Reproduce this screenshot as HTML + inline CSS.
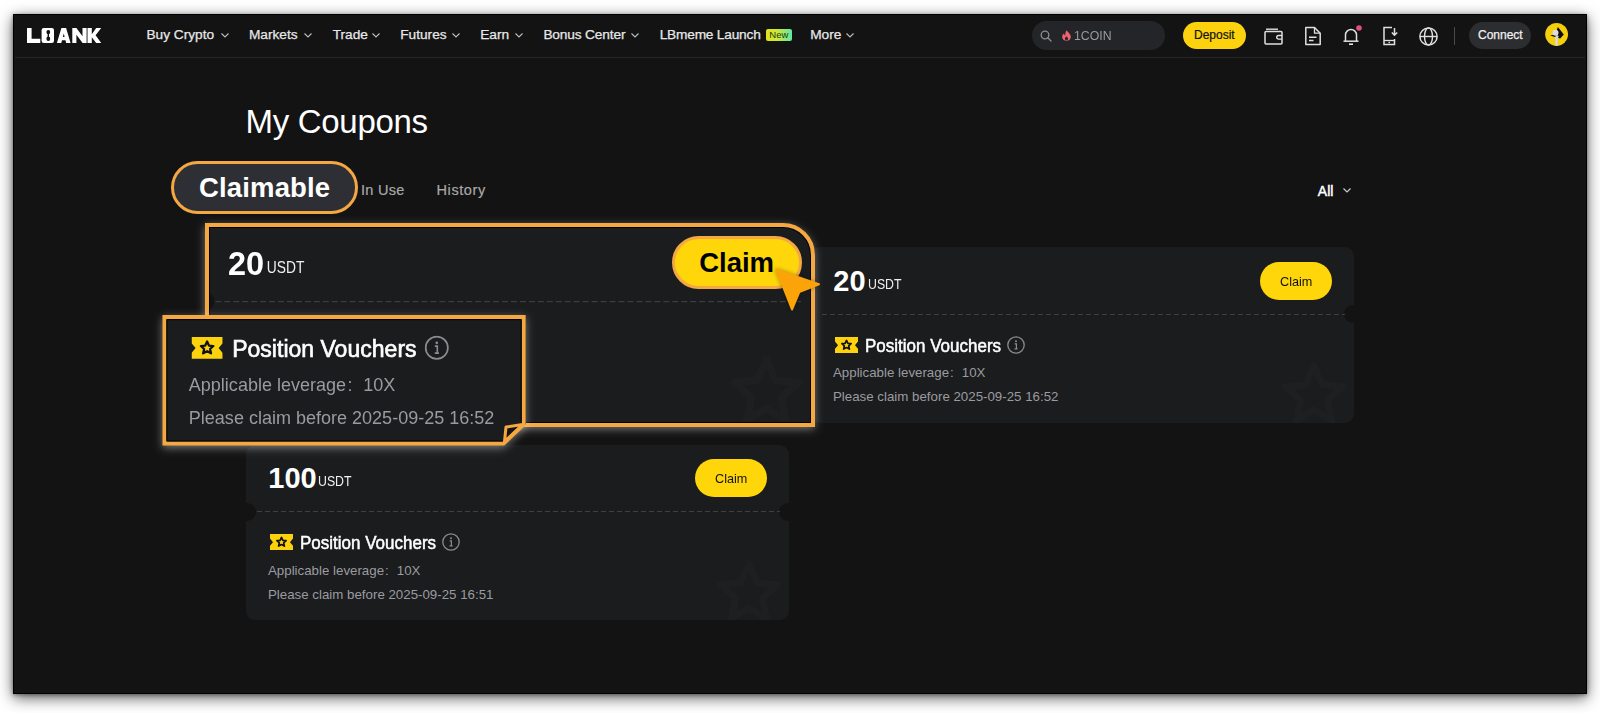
<!DOCTYPE html>
<html><head><meta charset="utf-8">
<style>
*{margin:0;padding:0;box-sizing:border-box;}
html,body{width:1600px;height:713px;overflow:hidden;background:#fff;font-family:"Liberation Sans",sans-serif;}
.a{position:absolute;}
.t{position:absolute;white-space:nowrap;line-height:1;}
#frame{position:absolute;left:13px;top:14px;width:1574px;height:680px;background:#131313;box-shadow:0 4px 14px rgba(0,0,0,.62),0 1px 4px rgba(0,0,0,.4);border:1px solid #000;}
.navline{position:absolute;left:15px;top:57px;width:1570px;height:1px;background:#262626;}
.nav{color:#e8e8e8;font-size:13.7px;-webkit-text-stroke:.25px #e8e8e8;}
.chev{position:absolute;width:8px;height:5px;}
.card{position:absolute;background:#1b1c1d;border-radius:9px;}
.notch{position:absolute;width:18px;height:18px;border-radius:50%;background:#131313;}
.dash{position:absolute;height:1px;background-image:linear-gradient(to right,#3e3f41 0 5px,transparent 5px 8px);background-size:8px 1px;}
.btn{position:absolute;background:#ffd60a;border-radius:20px;}
.gray{color:#9a9ba0;}
.glow{box-shadow:0 3px 10px 2px rgba(255,255,255,.24);}
.card{width:543px;height:175.5px;overflow:hidden;}
.amt{font-size:29px;font-weight:700;color:#fff;}
.usdt{font-size:14.5px;color:#f0f0f0;transform-origin:0 0;transform:scaleX(.85);}
.clm{font-size:13.6px;color:#111;transform-origin:0 0;transform:scaleX(.93);}
.pv{font-size:18.3px;color:#fff;-webkit-text-stroke:.5px #fff;transform-origin:0 0;transform:scaleX(.93);}
.al,.pc{font-size:13.3px;transform-origin:0 0;}
.fc{margin:0 8px 0 1px;}

</style></head><body>
<div id="frame"></div>
<div class="navline"></div>

<!-- logo -->
<svg class="a" style="left:0;top:0;width:120px;height:60px" viewBox="0 0 120 60"><g fill="#fff"><path d="M27 28H31.6V38.7H40.3V43H27Z"/><rect x="41.6" y="28" width="12.4" height="15" rx="2.2"/><path d="M56.9 43L61.4 28H66.1L70.6 43H66.2L65.5 40.3H62L61.3 43Z"/><path d="M72.3 43V28H76.4L82.5 36.3V28H86.6V43H82.6L76.4 34.7V43Z"/><path d="M87.5 28H91.8V34.2L96.2 28H101.2L95.6 35.3L101.2 43H96.1L91.8 37.2V43H87.5Z"/></g><g fill="#131313"><ellipse cx="48.3" cy="32.1" rx="1.9" ry="2.2"/><ellipse cx="48.3" cy="38.7" rx="1.9" ry="2.2"/><rect x="47.6" y="32" width="1.4" height="6.8"/><path d="M62.9 37H64.6L63.75 33.4Z"/></g></svg>

<!-- nav items -->
<div class="t nav" style="left:146.4px;top:27.8px;">Buy Crypto</div>
<svg class="chev" style="left:220.5px;top:32.5px" viewBox="0 0 8 5"><path d="M0.5 0.5L4 4L7.5 0.5" fill="none" stroke="#bdbdbd" stroke-width="1.1"/></svg>
<div class="t nav" style="left:248.9px;top:27.8px;">Markets</div>
<svg class="chev" style="left:303.5px;top:32.5px" viewBox="0 0 8 5"><path d="M0.5 0.5L4 4L7.5 0.5" fill="none" stroke="#bdbdbd" stroke-width="1.1"/></svg>
<div class="t nav" style="left:332.7px;top:27.8px;">Trade</div>
<svg class="chev" style="left:371.8px;top:32.5px" viewBox="0 0 8 5"><path d="M0.5 0.5L4 4L7.5 0.5" fill="none" stroke="#bdbdbd" stroke-width="1.1"/></svg>
<div class="t nav" style="left:400.2px;top:27.8px;">Futures</div>
<svg class="chev" style="left:452.3px;top:32.5px" viewBox="0 0 8 5"><path d="M0.5 0.5L4 4L7.5 0.5" fill="none" stroke="#bdbdbd" stroke-width="1.1"/></svg>
<div class="t nav" style="left:480.2px;top:27.8px;">Earn</div>
<svg class="chev" style="left:514.8px;top:32.5px" viewBox="0 0 8 5"><path d="M0.5 0.5L4 4L7.5 0.5" fill="none" stroke="#bdbdbd" stroke-width="1.1"/></svg>
<div class="t nav" style="left:543.4px;top:27.8px;letter-spacing:-0.15px;">Bonus Center</div>
<svg class="chev" style="left:631px;top:32.5px" viewBox="0 0 8 5"><path d="M0.5 0.5L4 4L7.5 0.5" fill="none" stroke="#bdbdbd" stroke-width="1.1"/></svg>
<div class="t nav" style="left:659.7px;top:27.8px;letter-spacing:-0.2px;">LBmeme Launch</div>
<div class="a" style="left:765.75px;top:28.75px;width:26.25px;height:12.5px;border-radius:2px;background:linear-gradient(90deg,#e6e21a,#c9e83a 45%,#5ee8a8);"></div>
<div class="t" style="left:769.3px;top:30px;font-size:9.5px;color:#1a3a12;">New</div>
<div class="t nav" style="left:810.2px;top:27.8px;">More</div>
<svg class="chev" style="left:846px;top:32.5px" viewBox="0 0 8 5"><path d="M0.5 0.5L4 4L7.5 0.5" fill="none" stroke="#bdbdbd" stroke-width="1.1"/></svg>

<!-- search -->
<div class="a" style="left:1032px;top:21px;width:133px;height:29px;border-radius:15px;background:#242528;"></div>
<svg class="a" style="left:1040px;top:30px;width:12px;height:12px" viewBox="0 0 12 12"><circle cx="5" cy="5" r="3.8" fill="none" stroke="#8e8e92" stroke-width="1.3"/><path d="M7.8 7.8L11 11" stroke="#8e8e92" stroke-width="1.3" stroke-linecap="round"/></svg>
<svg class="a" style="left:1060.5px;top:30px;width:11px;height:11px" viewBox="0 0 11 11"><path d="M5.5 0.3C6.5 2 9.8 4 9.8 7 C9.8 9.3 8 10.8 5.5 10.8 C3 10.8 1.2 9.3 1.2 7 C1.2 5.3 2.2 4.2 3 3.5 C3.2 4.6 3.6 5.2 4.2 5.5 C4.2 3.6 4.6 1.8 5.5 0.3Z" fill="#f06272"/><path d="M5.5 6.3C6.4 7.2 7.1 7.8 7.1 8.8C7.1 9.7 6.4 10.3 5.5 10.3C4.6 10.3 3.9 9.7 3.9 8.8C3.9 7.8 4.6 7.2 5.5 6.3Z" fill="#242528"/></svg>
<div class="t" style="left:1074px;top:29px;font-size:13.5px;color:#9a9a9e;transform-origin:0 0;transform:scaleX(.91);">1COIN</div>

<!-- deposit -->
<div class="a" style="left:1183px;top:22px;width:63px;height:27px;border-radius:14px;background:#fcd20f;"></div>
<div class="t" style="left:1194px;top:28.5px;font-size:12px;color:#111;-webkit-text-stroke:.2px #111;">Deposit</div>

<!-- icons -->
<svg class="a" style="left:1263px;top:26px;width:21px;height:20px" viewBox="0 0 21 20"><path d="M3 3.2H15" stroke="#e0e0e0" stroke-width="1.4" fill="none"/><rect x="2" y="5.5" width="17" height="12.5" rx="1" fill="none" stroke="#e0e0e0" stroke-width="1.5"/><path d="M19 9.5H15.5A1.8 1.8 0 0 0 15.5 13.1H19" fill="none" stroke="#e0e0e0" stroke-width="1.4"/></svg>
<svg class="a" style="left:1304px;top:26px;width:18px;height:20px" viewBox="0 0 18 20"><path d="M1.8 1.5H10.5L16.2 7.2V18.5H1.8Z" fill="none" stroke="#e0e0e0" stroke-width="1.5" stroke-linejoin="round"/><path d="M10.5 1.5V7.2H16.2" fill="none" stroke="#e0e0e0" stroke-width="1.3"/><path d="M5 11.2H12.5M5 14.5H9.5" stroke="#e0e0e0" stroke-width="1.5"/></svg>
<svg class="a" style="left:1342px;top:25px;width:22px;height:21px" viewBox="0 0 22 21"><path d="M3.5 16V10A5.5 5.5 0 0 1 14.5 10V16" fill="none" stroke="#e0e0e0" stroke-width="1.5"/><path d="M1.5 16.2H16.5" stroke="#e0e0e0" stroke-width="1.5"/><path d="M7 19.2H11" stroke="#e0e0e0" stroke-width="1.6"/><circle cx="17" cy="3" r="2.8" fill="#e0507a"/></svg>
<svg class="a" style="left:1382px;top:26px;width:18px;height:20px" viewBox="0 0 18 20"><path d="M10 1.5H2V18.5H12.5V13" fill="none" stroke="#e0e0e0" stroke-width="1.5"/><path d="M2 14.5H12.5" stroke="#e0e0e0" stroke-width="1.3"/><path d="M6.5 16.5H8" stroke="#e0e0e0" stroke-width="1.3"/><path d="M12.5 2V9M9.8 6.5L12.5 9.2L15.2 6.5" fill="none" stroke="#e0e0e0" stroke-width="1.5"/></svg>
<svg class="a" style="left:1418px;top:25.5px;width:21px;height:21px" viewBox="0 0 21 21"><circle cx="10.5" cy="10.5" r="8.6" fill="none" stroke="#e0e0e0" stroke-width="1.5"/><ellipse cx="10.5" cy="10.5" rx="4" ry="8.6" fill="none" stroke="#e0e0e0" stroke-width="1.4"/><path d="M2 10.5H19" stroke="#e0e0e0" stroke-width="1.4"/></svg>
<div class="a" style="left:1453.5px;top:26.5px;width:1.2px;height:18px;background:#4a4a4a;"></div>

<!-- connect -->
<div class="a" style="left:1469px;top:22px;width:62px;height:27px;border-radius:14px;background:#2c2d31;"></div>
<div class="t" style="left:1478px;top:28.6px;font-size:12px;color:#f0f0f0;-webkit-text-stroke:.25px #f0f0f0;">Connect</div>
<!-- avatar -->
<svg class="a" style="left:1544px;top:22px;width:25px;height:25px" viewBox="0 0 25 25"><defs><clipPath id="avc"><circle cx="12.6" cy="12.35" r="11.4"/></clipPath></defs><circle cx="12.6" cy="12.35" r="11.4" fill="#f5cf0c"/><g clip-path="url(#avc)"><path d="M13.9 5L19.8 12.6L16.2 16.6L6 13.5L11 12.5Z" fill="#0d0d0d"/><circle cx="11.5" cy="10.8" r="3" fill="#dcdcdc"/><circle cx="13" cy="14.5" r="1.6" fill="#d0d0d0"/><rect x="11.2" y="15" width="2.6" height="10" fill="#d8d8d8"/></g></svg>

<!-- title & tabs -->
<div class="t" style="left:245.5px;top:105px;font-size:33px;color:#fff;letter-spacing:-0.3px;">My Coupons</div>
<div class="a" style="left:171px;top:161px;width:187px;height:53px;border-radius:27px;background:#2e2f34;border:3px solid #f5a742;"></div>
<div class="t" style="left:199px;top:174px;font-size:27.5px;font-weight:700;color:#fff;letter-spacing:0.15px;">Claimable</div>
<div class="t" style="left:361px;top:182.5px;font-size:14.5px;color:#a8a8a8;-webkit-text-stroke:.2px #a8a8a8;letter-spacing:.3px;">In Use</div>
<div class="t" style="left:436.5px;top:182.5px;font-size:14.5px;color:#a8a8a8;-webkit-text-stroke:.2px #a8a8a8;letter-spacing:.6px;">History</div>
<div class="t" style="left:1317.8px;top:183.6px;font-size:14px;color:#fff;-webkit-text-stroke:.45px #fff;">All</div>
<svg class="chev" style="left:1342.5px;top:187.5px" viewBox="0 0 8 5"><path d="M0.5 0.5L4 4L7.5 0.5" fill="none" stroke="#cfcfcf" stroke-width="1.1"/></svg>


<div class="card" id="card2" style="left:811px;top:247px;">
  <div class="notch" style="left:533px;top:58px"></div>
  <div class="t amt" style="left:22.3px;top:19.7px">20</div>
  <div class="t usdt" style="left:56.8px;top:29.8px">USDT</div>
  <div class="btn" style="left:449px;top:14.7px;width:72.4px;height:38.3px"></div>
  <div class="t clm" style="left:468.5px;top:27.5px">Claim</div>
  <div class="dash" style="left:11px;top:66.5px;width:523px"></div>
  <svg class="a" style="left:24.3px;top:89.6px;width:23px;height:16.4px" viewBox="0 0 23 16.4"><path d="M0 0H23V4.6L20 8.2L23 11.8V16.4H0V11.8L3 8.2L0 4.6Z" fill="#fcd20f"/><path d="M11.5 3.4L12.9 6.4L16.1 6.7L13.7 8.9L14.4 12.1L11.5 10.5L8.6 12.1L9.3 8.9L6.9 6.7L10.1 6.4Z" fill="none" stroke="#111" stroke-width="1.7" stroke-linejoin="round"/></svg>
  <div class="t pv" style="left:54px;top:89.7px">Position Vouchers</div>
  <svg class="a" style="left:196px;top:88.7px;width:18px;height:18px" viewBox="0 0 18 18"><circle cx="9" cy="9" r="8.2" fill="none" stroke="#8a8b8e" stroke-width="1.3"/><circle cx="9" cy="5.3" r="1" fill="#8a8b8e"/><path d="M7.6 7.8H9.4V12.6M7.5 12.9H10.6" fill="none" stroke="#8a8b8e" stroke-width="1.2"/></svg>
  <div class="t al gray" style="left:22px;top:119px">Applicable leverage<span class="fc">:</span>10X</div>
  <div class="t pc gray" style="left:22px;top:143px">Please claim before 2025-09-25 16:52</div>
  <svg class="a" style="left:463px;top:109px;width:80px;height:80px" viewBox="0 0 80 80"><path d="M40.0 10.0L48.2 28.7L68.5 30.7L53.3 44.3L57.6 64.3L40.0 53.9L22.4 64.3L26.7 44.3L11.5 30.7L31.8 28.7Z" fill="none" stroke="#1e1f21" stroke-width="7" stroke-linejoin="round"/></svg>
</div>
<div class="card" id="card3" style="left:246px;top:444.5px;">
  <div class="notch" style="left:-8px;top:58px"></div><div class="notch" style="left:533px;top:58px"></div>
  <div class="t amt" style="left:22.3px;top:19.7px">100</div>
  <div class="t usdt" style="left:72.3px;top:29.8px">USDT</div>
  <div class="btn" style="left:449px;top:14.7px;width:72.4px;height:38.3px"></div>
  <div class="t clm" style="left:468.5px;top:27.5px">Claim</div>
  <div class="dash" style="left:11px;top:66.5px;width:523px"></div>
  <svg class="a" style="left:24.3px;top:89.6px;width:23px;height:16.4px" viewBox="0 0 23 16.4"><path d="M0 0H23V4.6L20 8.2L23 11.8V16.4H0V11.8L3 8.2L0 4.6Z" fill="#fcd20f"/><path d="M11.5 3.4L12.9 6.4L16.1 6.7L13.7 8.9L14.4 12.1L11.5 10.5L8.6 12.1L9.3 8.9L6.9 6.7L10.1 6.4Z" fill="none" stroke="#111" stroke-width="1.7" stroke-linejoin="round"/></svg>
  <div class="t pv" style="left:54px;top:89.7px">Position Vouchers</div>
  <svg class="a" style="left:196px;top:88.7px;width:18px;height:18px" viewBox="0 0 18 18"><circle cx="9" cy="9" r="8.2" fill="none" stroke="#8a8b8e" stroke-width="1.3"/><circle cx="9" cy="5.3" r="1" fill="#8a8b8e"/><path d="M7.6 7.8H9.4V12.6M7.5 12.9H10.6" fill="none" stroke="#8a8b8e" stroke-width="1.2"/></svg>
  <div class="t al gray" style="left:22px;top:119px">Applicable leverage<span class="fc">:</span>10X</div>
  <div class="t pc gray" style="left:22px;top:143px">Please claim before 2025-09-25 16:51</div>
  <svg class="a" style="left:463px;top:109px;width:80px;height:80px" viewBox="0 0 80 80"><path d="M40.0 10.0L48.2 28.7L68.5 30.7L53.3 44.3L57.6 64.3L40.0 53.9L22.4 64.3L26.7 44.3L11.5 30.7L31.8 28.7Z" fill="none" stroke="#1e1f21" stroke-width="7" stroke-linejoin="round"/></svg>
</div>
<svg class="a" style="left:0;top:0;width:1600px;height:713px;" viewBox="0 0 1600 713"><defs><filter id="gl1" filterUnits="userSpaceOnUse" x="0" y="0" width="1600" height="713"><feGaussianBlur stdDeviation="4"/></filter></defs><path d="M205 223H782.5A32 32 0 0 1 814.5 255V426.5H205Z" fill="rgba(255,255,255,.42)" filter="url(#gl1)" transform="translate(0,2.5)"/></svg><div class="a" style="left:205px;top:223px;width:609.5px;height:203.5px;overflow:hidden;border-top-right-radius:32px;background:#1b1c1d;"><div class="card" id="card1z" style="left:-1.7px;top:3px;transform-origin:0 0;transform:scale(1.12);">
  <div class="notch" style="left:-8px;top:58px"></div>
  <div class="t amt" style="left:22.3px;top:19.7px">20</div>
  <div class="t usdt" style="left:56.8px;top:29.8px">USDT</div>
  <div class="btn" style="left:449px;top:14.7px;width:72.4px;height:38.3px"></div>
  <div class="t clm" style="left:468.5px;top:27.5px">Claim</div>
  <div class="dash" style="left:11px;top:66.5px;width:523px"></div>
  <svg class="a" style="left:24.3px;top:89.6px;width:23px;height:16.4px" viewBox="0 0 23 16.4"><path d="M0 0H23V4.6L20 8.2L23 11.8V16.4H0V11.8L3 8.2L0 4.6Z" fill="#fcd20f"/><path d="M11.5 3.4L12.9 6.4L16.1 6.7L13.7 8.9L14.4 12.1L11.5 10.5L8.6 12.1L9.3 8.9L6.9 6.7L10.1 6.4Z" fill="none" stroke="#111" stroke-width="1.7" stroke-linejoin="round"/></svg>
  <div class="t pv" style="left:54px;top:89.7px">Position Vouchers</div>
  <svg class="a" style="left:196px;top:88.7px;width:18px;height:18px" viewBox="0 0 18 18"><circle cx="9" cy="9" r="8.2" fill="none" stroke="#8a8b8e" stroke-width="1.3"/><circle cx="9" cy="5.3" r="1" fill="#8a8b8e"/><path d="M7.6 7.8H9.4V12.6M7.5 12.9H10.6" fill="none" stroke="#8a8b8e" stroke-width="1.2"/></svg>
  <div class="t al gray" style="left:22px;top:119px">Applicable leverage<span class="fc">:</span>10X</div>
  <div class="t pc gray" style="left:22px;top:143px">Please claim before 2025-09-25 16:52</div>
  <svg class="a" style="left:463px;top:109px;width:80px;height:80px" viewBox="0 0 80 80"><path d="M40.0 10.0L48.2 28.7L68.5 30.7L53.3 44.3L57.6 64.3L40.0 53.9L22.4 64.3L26.7 44.3L11.5 30.7L31.8 28.7Z" fill="none" stroke="#1e1f21" stroke-width="7" stroke-linejoin="round"/></svg>
</div>
</div><div class="a" style="left:205px;top:223px;width:609.5px;height:203.5px;border:4px solid #f5a742;border-top-right-radius:32px;box-shadow:inset 0 0 0 1px #000;"></div><div class="a" style="left:672px;top:236px;width:130px;height:53px;border:3px solid #f5a742;border-radius:27px;background:#ffd60a;"></div><div class="t" style="left:699.2px;top:248.6px;font-size:27.5px;font-weight:700;color:#000;">Claim</div><svg class="a" style="left:0;top:0;width:1600px;height:713px;filter:drop-shadow(0 0 2px rgba(0,0,0,.35));" viewBox="0 0 1600 713"><path d="M776.4 269.8L819 284.3L799.3 292L792 309.5Z" fill="#fba40a" stroke="#fba40a" stroke-width="2" stroke-linejoin="round"/></svg><svg class="a" style="left:0;top:0;width:1600px;height:713px;" viewBox="0 0 1600 713"><defs><filter id="gl2" filterUnits="userSpaceOnUse" x="0" y="0" width="1600" height="713"><feGaussianBlur stdDeviation="4"/></filter></defs><path d="M162.4 315.1H525.7V424L503.5 445.5H162.4Z" fill="rgba(255,255,255,.42)" filter="url(#gl2)" transform="translate(0,2.5)"/></svg><div class="a" style="left:162.4px;top:315.1px;width:363.3px;height:130.4px;overflow:hidden;background:#1b1c1d;clip-path:polygon(0 0,100% 0,100% 83.5%,93.9% 100%,0 100%);"><div class="card" id="card1c" style="left:-3.9px;top:-100.5px;transform-origin:0 0;transform:scale(1.355);">
  <div class="notch" style="left:-8px;top:58px"></div><div class="notch" style="left:533px;top:58px"></div>
  <div class="t amt" style="left:22.3px;top:19.7px">20</div>
  <div class="t usdt" style="left:56.8px;top:29.8px">USDT</div>
  <div class="btn" style="left:449px;top:14.7px;width:72.4px;height:38.3px"></div>
  <div class="t clm" style="left:468.5px;top:27.5px">Claim</div>
  <div class="dash" style="left:11px;top:66.5px;width:523px"></div>
  <svg class="a" style="left:24.3px;top:89.6px;width:23px;height:16.4px" viewBox="0 0 23 16.4"><path d="M0 0H23V4.6L20 8.2L23 11.8V16.4H0V11.8L3 8.2L0 4.6Z" fill="#fcd20f"/><path d="M11.5 3.4L12.9 6.4L16.1 6.7L13.7 8.9L14.4 12.1L11.5 10.5L8.6 12.1L9.3 8.9L6.9 6.7L10.1 6.4Z" fill="none" stroke="#111" stroke-width="1.7" stroke-linejoin="round"/></svg>
  <div class="t pv" style="left:54px;top:89.7px">Position Vouchers</div>
  <svg class="a" style="left:196px;top:88.7px;width:18px;height:18px" viewBox="0 0 18 18"><circle cx="9" cy="9" r="8.2" fill="none" stroke="#8a8b8e" stroke-width="1.3"/><circle cx="9" cy="5.3" r="1" fill="#8a8b8e"/><path d="M7.6 7.8H9.4V12.6M7.5 12.9H10.6" fill="none" stroke="#8a8b8e" stroke-width="1.2"/></svg>
  <div class="t al gray" style="left:22px;top:119px">Applicable leverage<span class="fc">:</span>10X</div>
  <div class="t pc gray" style="left:22px;top:143px">Please claim before 2025-09-25 16:52</div>
  <svg class="a" style="left:463px;top:109px;width:80px;height:80px" viewBox="0 0 80 80"><path d="M40.0 10.0L48.2 28.7L68.5 30.7L53.3 44.3L57.6 64.3L40.0 53.9L22.4 64.3L26.7 44.3L11.5 30.7L31.8 28.7Z" fill="none" stroke="#1e1f21" stroke-width="7" stroke-linejoin="round"/></svg>
</div>
</div><svg class="a" style="left:0;top:0;width:1600px;height:713px;" viewBox="0 0 1600 713"><path d="M164.4 317.1H523.7V424.5L503.5 443.5H164.4Z" fill="none" stroke="#f5a742" stroke-width="4"/><path d="M166.9 319.6H521.2V423.5L502.5 441H166.9Z" fill="none" stroke="#000" stroke-width="1"/><path d="M506 427L522.5 424.5L504.5 441.5Z" fill="#141414" stroke="#f5a742" stroke-width="3" stroke-linejoin="round"/></svg></body></html>
